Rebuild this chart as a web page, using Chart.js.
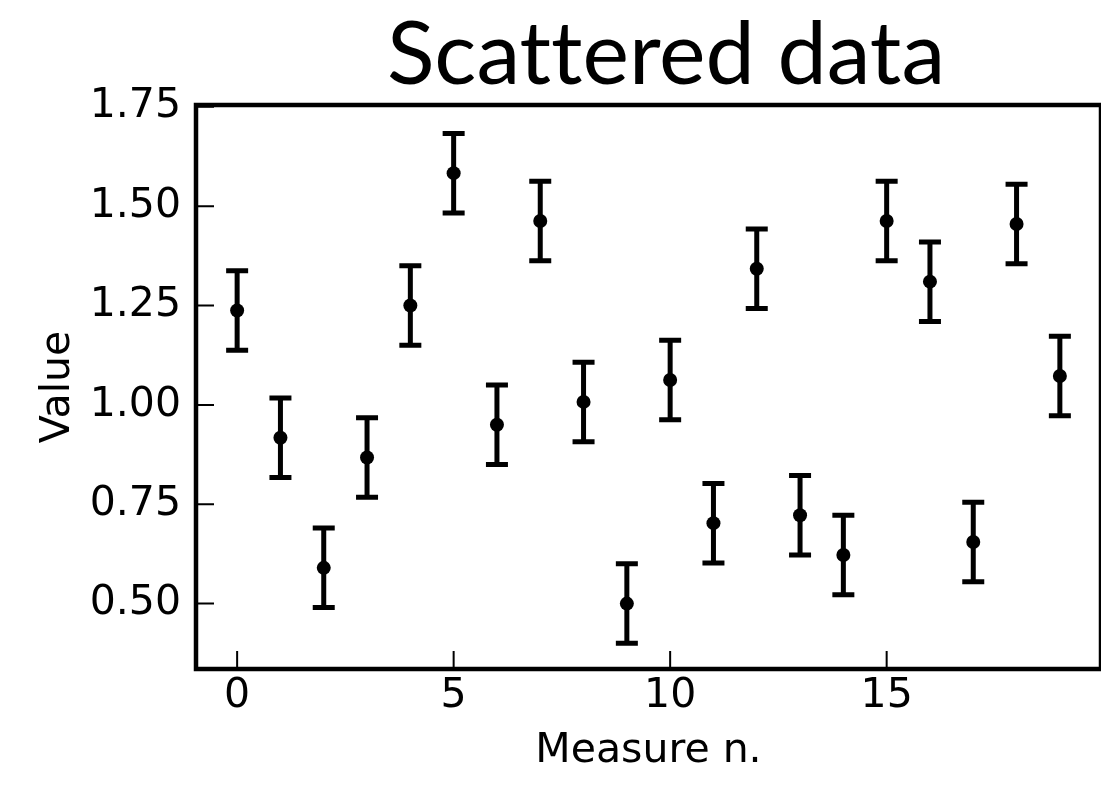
<!DOCTYPE html>
<html>
<head>
<meta charset="utf-8">
<script src="https://cdn.jsdelivr.net/npm/chart.js@4.4.1/dist/chart.umd.min.js"></script>
<style>
  html, body { margin: 0; padding: 0; background: #fff; }
  #wrap { width: 1101px; height: 803px; }
</style>
</head>
<body>
<div id="wrap"><canvas id="chart" width="1101" height="803"></canvas></div>
<script>
'use strict';

const measures = [0, 1, 2, 3, 4, 5, 6, 7, 8, 9, 10, 11, 12, 13, 14, 15, 16, 17, 18, 19];
const values = [1.2375, 0.9175, 0.59, 0.8675, 1.25, 1.583, 0.95, 1.4625, 1.0075, 0.50,
                1.0625, 0.7025, 1.3425, 0.7225, 0.6225, 1.4625, 1.31, 0.655, 1.455, 1.0725];
const errors = [0.1, 0.1, 0.1, 0.1, 0.1, 0.1, 0.1, 0.1, 0.1, 0.1,
                0.1, 0.1, 0.1, 0.1, 0.1, 0.1, 0.1, 0.1, 0.1, 0.1];
const xTicks = [0, 5, 10, 15];
const yTicks = [0.50, 0.75, 1.00, 1.25, 1.50, 1.75];

const titleText = 'Scat\u200Ctered data'; // ZWNJ keeps Lato from joining the "tt"
const xLabel = 'Measure n.';
const yLabel = 'Value';

const tickFont = { family: '"DejaVu Sans", sans-serif', size: 41 };

// error bars + caps, drawn under the points
const errorBars = {
    id: 'errorBars',
    beforeDatasetsDraw(chart) {
        const { ctx, scales: { x, y } } = chart;
        ctx.save();
        ctx.strokeStyle = '#000';
        ctx.lineWidth = 5;
        ctx.lineCap = 'butt';
        measures.forEach((m, i) => {
            const px = x.getPixelForValue(m);
            const top = y.getPixelForValue(values[i] + errors[i]);
            const bot = y.getPixelForValue(values[i] - errors[i]);
            ctx.beginPath();
            ctx.moveTo(px, top);
            ctx.lineTo(px, bot);
            ctx.moveTo(px - 11, top);
            ctx.lineTo(px + 11, top);
            ctx.moveTo(px - 11, bot);
            ctx.lineTo(px + 11, bot);
            ctx.stroke();
        });
        ctx.restore();
    }
};

// box frame, inward ticks and the title
const frame = {
    id: 'frame',
    afterDraw(chart) {
        const { ctx, chartArea: a, scales: { x, y } } = chart;
        ctx.save();
        ctx.strokeStyle = '#000';
        ctx.lineWidth = 2;
        ctx.beginPath();
        xTicks.forEach(v => {
            const px = x.getPixelForValue(v);
            ctx.moveTo(px, a.bottom);
            ctx.lineTo(px, a.bottom - 18);
        });
        yTicks.forEach(v => {
            const py = y.getPixelForValue(v);
            ctx.moveTo(a.left, py);
            ctx.lineTo(a.left + 18, py);
        });
        ctx.stroke();

        ctx.lineWidth = 4.5;
        ctx.strokeRect(a.left, a.top, a.right - a.left, a.bottom - a.top);

        ctx.fillStyle = '#000';
        ctx.font = '88px Lato, "Open Sans", sans-serif';
        ctx.textAlign = 'center';
        ctx.textBaseline = 'alphabetic';
        ctx.fillText(titleText, 666, 84);
        ctx.restore();
    }
};

new Chart(document.getElementById('chart'), {
    type: 'scatter',
    data: {
        datasets: [{
            label: 'data',
            data: measures.map((m, i) => ({ x: m, y: values[i] })),
            backgroundColor: '#000',
            borderWidth: 0,
            pointRadius: 7,
            pointHoverRadius: 7
        }]
    },
    options: {
        responsive: false,
        animation: false,
        layout: { autoPadding: false, padding: { top: 105, left: 0, right: 0, bottom: 0 } },
        scales: {
            x: {
                type: 'linear',
                min: -0.95,
                max: 19.95,
                afterBuildTicks: s => { s.ticks = xTicks.map(v => ({ value: v })); },
                afterFit: s => { s.height = 134; s.paddingLeft = 0; s.paddingRight = 0; },
                grid: { display: false, drawTicks: false },
                border: { display: false },
                ticks: { font: tickFont, color: '#000', padding: 3, maxRotation: 0 },
                title: { display: true, text: xLabel, font: tickFont, color: '#000', padding: { top: 0, bottom: 27 } }
            },
            y: {
                type: 'linear',
                min: 0.3355,
                max: 1.7545,
                afterBuildTicks: s => { s.ticks = yTicks.map(v => ({ value: v })); },
                afterFit: s => { s.width = 196; s.paddingTop = 0; s.paddingBottom = 0; },
                grid: { display: false, drawTicks: false },
                border: { display: false },
                ticks: { font: tickFont, color: '#000', padding: 15, callback: v => v.toFixed(2) },
                title: { display: true, text: yLabel, font: tickFont, color: '#000', padding: { top: 34, bottom: 0 } }
            }
        },
        plugins: {
            legend: { display: false },
            tooltip: { enabled: false }
        }
    },
    plugins: [errorBars, frame]
});
</script>
</body>
</html>
